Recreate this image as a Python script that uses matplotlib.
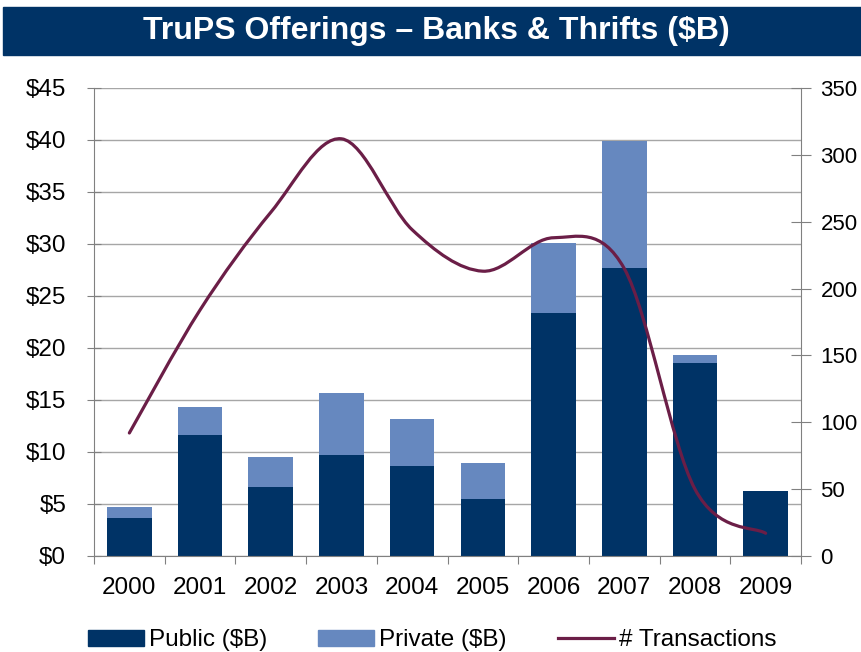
import matplotlib
matplotlib.use("Agg")
import matplotlib.pyplot as plt
from matplotlib.path import Path
from matplotlib.patches import PathPatch, Rectangle
from matplotlib.lines import Line2D
from matplotlib.ticker import FuncFormatter
import numpy as np

plt.rcParams['font.family'] = ['Liberation Sans', 'DejaVu Sans']

years = ["2000", "2001", "2002", "2003", "2004", "2005", "2006", "2007", "2008", "2009"]
public = [3.65, 11.6, 6.6, 9.7, 8.65, 5.5, 23.4, 27.7, 18.6, 6.25]
private = [1.05, 2.7, 2.9, 6.0, 4.55, 3.4, 6.7, 12.2, 0.7, 0.0]
transactions = [92, 184, 257, 312, 244, 213, 238, 215, 50, 17]

navy = "#003366"
light = "#6688BF"
maroon = "#6B1E47"
grey = "#808080"

fig = plt.figure(figsize=(8.61, 6.52), dpi=100)

# title bar
fig.patches.append(Rectangle((3 / 861, 1 - 55 / 652), 1, 48 / 652,
                             transform=fig.transFigure, color=navy, zorder=0))
fig.text(0.507, 1 - 31 / 652, "TruPS Offerings \u2013 Banks & Thrifts (\\$B)",
         color="white", fontsize=23, fontweight="bold", ha="center", va="center")

ax = fig.add_axes([94 / 861, 1 - 556 / 652, 707 / 861, 468 / 652])
x = np.arange(len(years))
ax.bar(x, public, width=0.63, color=navy, label="Public ($B)")
ax.bar(x, private, width=0.63, bottom=public, color=light, label="Private ($B)")

ax.set_xlim(-0.5, len(years) - 0.5)
ax.set_ylim(0, 45)
ax.set_yticks(np.arange(0, 46, 5))
ax.yaxis.set_major_formatter(FuncFormatter(lambda v, p: "\\$%d" % v))
ax.grid(axis="y", color="#A6A6A6", linewidth=1)
ax.set_axisbelow(True)

ax.set_xticks(np.arange(-0.5, len(years), 1))
ax.set_xticklabels([])
ax.set_xticks(x, minor=True)
ax.set_xticklabels(years, minor=True)
ax.tick_params(axis="x", which="major", direction="out", length=6, color=grey)
ax.tick_params(axis="x", which="minor", length=0, pad=15, labelsize=17.5)
ax.tick_params(axis="y", direction="inout", length=10, color=grey, pad=15, labelsize=17.5)

for s in ["top", "right"]:
    ax.spines[s].set_visible(False)
for s in ["left", "bottom"]:
    ax.spines[s].set_color(grey)

ax2 = ax.twinx()
ax2.set_ylim(0, 350)
ax2.set_yticks(np.arange(0, 351, 50))
ax2.tick_params(axis="y", direction="inout", length=14, color=grey, pad=7, labelsize=16)
for s in ["top", "left", "bottom"]:
    ax2.spines[s].set_visible(False)
ax2.spines["right"].set_color(grey)

# smoothed line (Catmull-Rom style bezier, like Excel's smoothed line)
pts = np.column_stack([x, transactions]).astype(float)
verts = [pts[0]]
codes = [Path.MOVETO]
n = len(pts)
for i in range(n - 1):
    p0 = pts[max(i - 1, 0)]
    p1 = pts[i]
    p2 = pts[i + 1]
    p3 = pts[min(i + 2, n - 1)]
    c1 = p1 + (p2 - p0) / 6
    c2 = p2 - (p3 - p1) / 6
    verts += [c1, c2, p2]
    codes += [Path.CURVE4] * 3
ax2.add_patch(PathPatch(Path(verts, codes), facecolor="none", edgecolor=maroon,
                        linewidth=2.3, capstyle="round", joinstyle="round"))

handles = [Rectangle((0, 0), 1, 1, color=navy),
           Rectangle((0, 0), 1, 1, color=light),
           Line2D([], [], color=maroon, linewidth=2.3)]
fig.legend(handles, ["Public (\\$B)", "Private (\\$B)", "# Transactions"],
           loc="center", bbox_to_anchor=(0.502, 0.018), ncol=3, frameon=False,
           fontsize=17.5, handlelength=2.3, handleheight=0.65, handletextpad=0.2,
           columnspacing=2.1, borderaxespad=0, borderpad=0)

fig.savefig("out.png", dpi=100)
